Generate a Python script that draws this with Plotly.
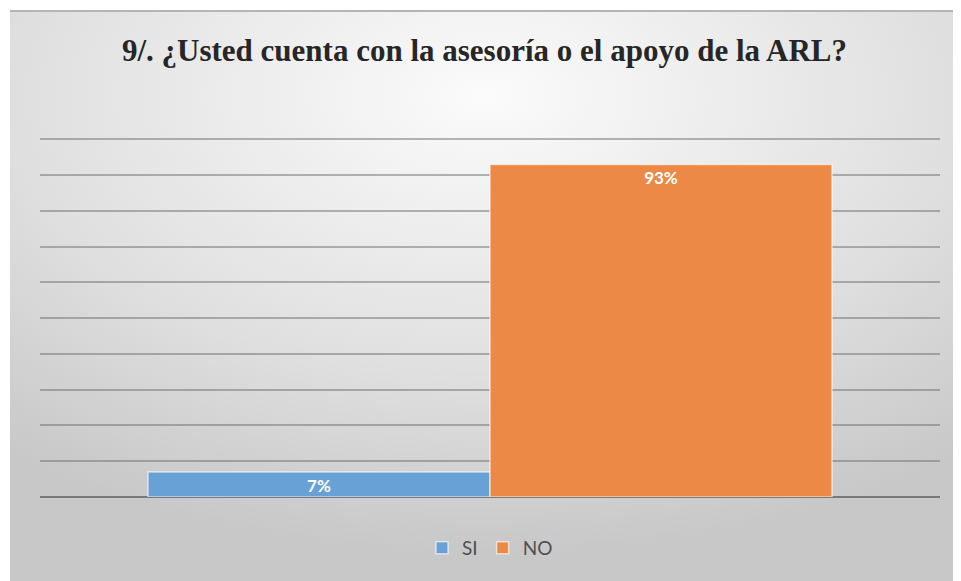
import base64
import plotly.graph_objects as go

# datos de la encuesta
categorias = ["SI", "NO"]
porcentajes = [7, 93]
colores = ["#67A1D6", "#EC8946"]
titulo = "9/. ¿Usted cuenta con la asesoría o el apoyo de la ARL?"

# la página añade 8px de margen, así que la figura es algo más pequeña
OFF = 8
W, H = 961 - OFF, 581 - OFF
M_L, M_R, M_T, M_B = 40 - OFF, 21, 138 - OFF, 84
plot_w = W - M_L - M_R
plot_h = H - M_T - M_B
Y_MAX = 100.4

# fondo degradado estilo Excel (imagen svg)
svg = """<svg xmlns='http://www.w3.org/2000/svg' width='951' height='571'>
<defs><radialGradient id='g' cx='50%' cy='15%' r='80%'>
<stop offset='0%' stop-color='#fbfbfb'/><stop offset='60%' stop-color='#e0e0e0'/>
<stop offset='100%' stop-color='#c8c8c8'/></radialGradient></defs>
<rect width='951' height='571' fill='url(#g)'/>
<rect width='951' height='2' fill='#b5b5b5'/></svg>"""
fondo = "data:image/svg+xml;base64," + base64.b64encode(svg.encode()).decode()

fig = go.Figure()
for cat, val, col in zip(categorias, porcentajes, colores):
    fig.add_trace(go.Bar(
        x=[""], y=[val], name=cat,
        marker=dict(color=col, line=dict(color="rgba(255,255,255,0.6)", width=1.5)),
        text=[f"{val}%"], textposition="inside", insidetextanchor="end",
        textangle=0, constraintext="none",
        textfont=dict(family="Lato", size=17, color="white", weight="bold"),
    ))

y0 = H - M_B  # pixel del cero
fig.update_layout(
    width=W, height=H,
    margin=dict(l=M_L, r=M_R, t=M_T, b=M_B),
    paper_bgcolor="white",
    plot_bgcolor="rgba(0,0,0,0)",
    barmode="group", bargap=0.24, bargroupgap=0,
    title=dict(text=titulo, x=0.5, xanchor="center",
               y=1 - (50 - OFF) / H, yanchor="middle",
               font=dict(family="'Liberation Serif', 'DejaVu Serif', serif",
                         size=31, weight="bold", color="#262626")),
    legend=dict(orientation="h", x=0.5, xanchor="center",
                y=-(548 - OFF - y0) / plot_h, yanchor="middle",
                font=dict(family="Lato", size=19, color="#505050"),
                bgcolor="rgba(0,0,0,0)", itemwidth=30, traceorder="normal"),
    xaxis=dict(showticklabels=False, showgrid=False, zeroline=False,
               showline=False, fixedrange=True),
    yaxis=dict(range=[0, Y_MAX], dtick=10, showticklabels=False,
               showgrid=True, gridcolor="rgba(110,110,110,0.5)", gridwidth=2,
               zeroline=True, zerolinecolor="#7a7a7a", zerolinewidth=2),
    images=[dict(source=fondo, xref="paper", yref="paper",
                 x=(2 - M_L) / plot_w, y=(y0 - 2) / plot_h,
                 sizex=(W - 2) / plot_w, sizey=(H - 2) / plot_h,
                 sizing="stretch", xanchor="left", yanchor="top",
                 layer="below")],
)

fig.write_html("out.html")
